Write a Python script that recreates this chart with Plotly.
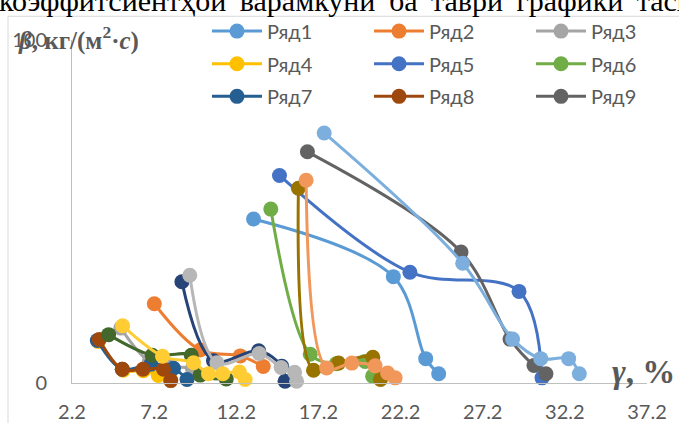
import plotly.graph_objects as go

# ---- data: gamma (%) vs beta (kg/(m2*s)) for each series ----
x1 = [13.25, 21.76, 23.73, 24.52]
y1 = [47.8, 31.0, 7.1, 2.7]
x2 = [7.21, 10.00, 12.44, 13.84]
y2 = [23.1, 9.6, 7.9, 4.8]
x3 = [5.17, 6.90, 8.18, 9.52]
y3 = [16.0, 6.3, 5.0, 4.3]
x4 = [3.80, 5.32, 6.54, 7.45, 8.18]
y4 = [12.1, 3.7, 3.6, 2.2, 1.0]
x5 = [14.83, 22.77, 29.41, 30.81]
y5 = [60.5, 32.3, 26.7, 1.5]
x6 = [14.30, 16.70, 18.28, 20.04, 20.50]
y6 = [50.7, 8.4, 5.6, 6.3, 2.0]
x7 = [3.74, 5.26, 7.01, 8.38, 9.20]
y7 = [12.4, 4.0, 5.5, 4.3, 1.0]
x8 = [3.86, 5.26, 6.52, 7.77, 8.21]
y8 = [12.7, 4.0, 4.0, 4.0, 0.7]
x9 = [16.53, 25.88, 28.86, 30.32, 31.05]
y9 = [67.4, 38.2, 12.8, 5.1, 2.7]
x10 = [15.98, 16.90, 18.42, 20.51, 20.98]
y10 = [56.8, 3.7, 5.8, 7.5, 1.0]
x11 = [8.89, 10.81, 13.56, 14.97, 15.17]
y11 = [29.5, 6.5, 9.4, 4.9, 0.5]
x12 = [4.43, 7.08, 9.46, 10.00, 11.59]
y12 = [14.1, 8.1, 8.1, 2.3, 1.2]
x13 = [17.55, 25.98, 29.02, 30.73, 32.43, 33.08]
y13 = [72.9, 34.9, 12.8, 7.1, 7.1, 2.7]
x14 = [16.45, 17.70, 19.23, 20.65, 21.41, 21.87]
y14 = [59.1, 4.4, 5.8, 5.0, 2.9, 1.5]
x15 = [9.37, 11.02, 13.59, 14.93, 15.75, 15.87]
y15 = [31.4, 5.9, 8.6, 4.5, 3.1, 0.5]
x16 = [5.28, 7.71, 9.60, 10.51, 11.38, 12.39, 12.74]
y16 = [16.7, 7.8, 5.9, 2.7, 2.7, 3.2, 1.0]

series_x = [x1, x2, x3, x4, x5, x6, x7, x8, x9, x10, x11, x12, x13, x14, x15, x16]
series_y = [y1, y2, y3, y4, y5, y6, y7, y8, y9, y10, y11, y12, y13, y14, y15, y16]
names = ["Ряд" + str(i) for i in range(1, 17)]
colors = ["#5B9BD5", "#ED7D31", "#A5A5A5", "#FFC000", "#4472C4", "#70AD47",
          "#255E91", "#9E480E", "#636363", "#997300", "#264478", "#43682B",
          "#7CAFDD", "#F1975A", "#B7B7B7", "#FFCD33"]

x_ticks = [2.2, 7.2, 12.2, 17.2, 22.2, 27.2, 32.2, 37.2]
x_tick_text = ["2.2", "7.2", "12.2", "17.2", "22.2", "27.2", "32.2", "37.2"]
y_ticks = [0, 100]

# justified line of body text above the chart (wide word gaps)
caption_words = ["коэффитсиентҳои", "варамкунӣ", "ба", "таври", "графики", "тасвир"]
caption = " \u2009".join(caption_words)

# plot area in pixels (used to place legend entries and frame)
L, R, T, B, W, H = 72, 32, 36, 40, 679, 423
PW, PH = W - L - R, H - T - B


def px_x(px):
    return (px - L) / PW


def px_y(py):
    return (H - B - py) / PH


# legend grid: 3 columns x 3 rows, one legend box per entry
col_left = [207, 369, 531]
row_mid = [27, 60, 93]

fig = go.Figure()
for i, (xs, ys) in enumerate(zip(series_x, series_y)):
    lg = ("legend" if i == 0 else "legend%d" % (i + 1)) if i < 9 else "legend"
    fig.add_trace(go.Scatter(
        x=xs, y=ys, name=names[i], mode="lines+markers",
        line=dict(color=colors[i], width=3, shape="spline", smoothing=1),
        marker=dict(color=colors[i], size=15),
        cliponaxis=False,
        showlegend=i < 9,
        legend=lg,
    ))

legend_font = dict(family="Lato", size=20, color="#595959")
legends = {}
for k in range(9):
    key = "legend" if k == 0 else "legend%d" % (k + 1)
    legends[key] = dict(
        x=px_x(col_left[k % 3]), y=px_y(row_mid[k // 3]),
        xanchor="left", yanchor="middle", orientation="h",
        itemwidth=50, bgcolor="rgba(0,0,0,0)", borderwidth=0,
        font=legend_font,
    )

axis_font = dict(family="Lato", size=20, color="#595959")

fig.update_layout(
    width=W, height=H,
    margin=dict(l=L, r=R, t=T, b=B),
    paper_bgcolor="white", plot_bgcolor="white",
    font=dict(family="Lato", size=20, color="#595959"),
    xaxis=dict(range=[2.2, 37.2], tickvals=x_ticks, ticktext=x_tick_text,
               showline=True, linecolor="#BFBFBF", linewidth=1,
               showgrid=False, zeroline=False, ticks="", automargin=False,
               ticklabelstandoff=11, tickfont=axis_font),
    yaxis=dict(range=[0, 100], tickvals=y_ticks,
               showline=True, linecolor="#BFBFBF", linewidth=1,
               showgrid=False, zeroline=False, ticks="", automargin=False,
               ticklabelstandoff=20, tickfont=axis_font),
    shapes=[dict(type="rect", xref="paper", yref="paper",
                 x0=px_x(8), x1=px_x(700), y0=px_y(440), y1=px_y(12),
                 line=dict(color="#D9D9D9", width=1), layer="below")],
    annotations=[
        dict(text=caption,
             xref="paper", yref="paper", x=px_x(-3), y=px_y(-4),
             xanchor="left", yanchor="middle", showarrow=False,
             font=dict(family="Liberation Serif", size=30, color="black")),
        dict(text="<i><b>β</b></i><b>, кг/(м<sup>2</sup>·</b><i><b>с</b></i><b>)</b>",
             xref="paper", yref="paper", x=px_x(16), y=px_y(34),
             xanchor="left", yanchor="middle", showarrow=False,
             font=dict(family="Liberation Serif", size=25, color="#595959")),
        dict(text="<i><b>γ</b></i><b>, %</b>",
             xref="paper", yref="paper", x=px_x(610), y=px_y(372),
             xanchor="left", yanchor="middle", showarrow=False,
             font=dict(family="Liberation Serif", size=33, color="#595959")),
    ],
)
fig.update_layout(legends)

fig.write_html("out.html")
